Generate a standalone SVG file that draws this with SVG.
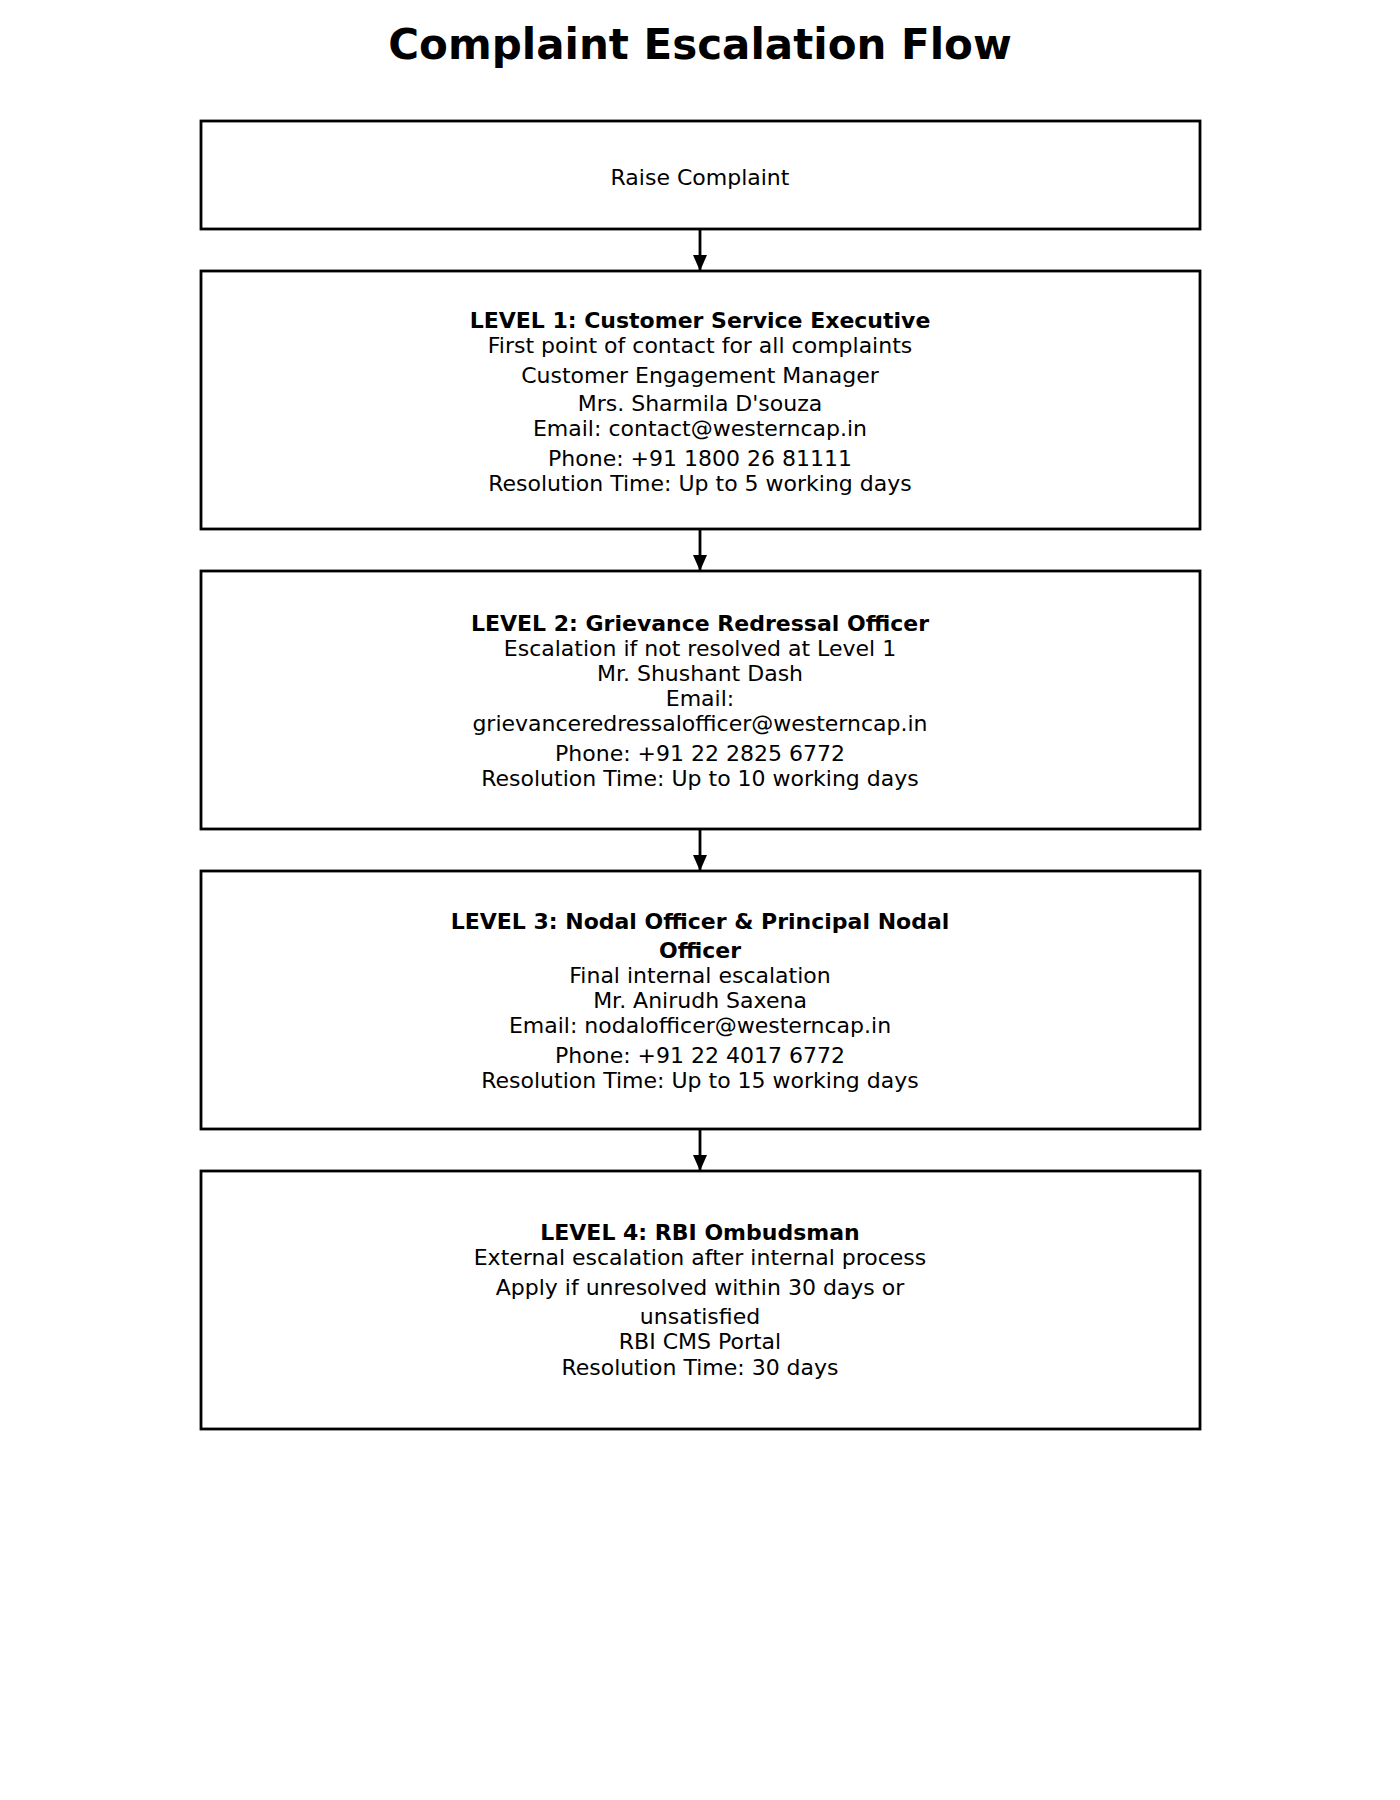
<svg xmlns="http://www.w3.org/2000/svg" width="1400" height="1800" viewBox="0 0 1400 1800">
<style>
.box{fill:#fff;stroke:#000;stroke-width:2.8}
text{font-family:"DejaVu Sans",sans-serif;font-size:22px;text-anchor:middle;fill:#000}
.b{font-weight:bold}
.t{font-size:42px;font-weight:bold}
.c{stroke:#000;stroke-width:2.8;fill:none}
</style>
<defs><marker id="a" markerWidth="16" markerHeight="14" refX="16" refY="7" orient="auto" markerUnits="userSpaceOnUse" viewBox="0 0 16 14"><path d="M0,0L16,7L0,14z" fill="#000"/></marker></defs>
<rect width="1400" height="1800" fill="#fff"/>
<text class="t" x="700" y="59">Complaint Escalation Flow</text>
<g id="connectors">
<line class="c" x1="700" y1="230" x2="700" y2="271" marker-end="url(#a)"/>
<line class="c" x1="700" y1="530" x2="700" y2="571" marker-end="url(#a)"/>
<line class="c" x1="700" y1="830" x2="700" y2="871" marker-end="url(#a)"/>
<line class="c" x1="700" y1="1130" x2="700" y2="1171" marker-end="url(#a)"/>
</g>
<g id="raise"><rect class="box" x="201" y="121" width="999" height="108"/><text x="700" y="185">Raise Complaint</text></g>
<g id="level1"><rect class="box" x="201" y="271" width="999" height="258"/>
<text class="b" x="700" y="328">LEVEL 1: Customer Service Executive</text>
<text x="700" y="353">First point of contact for all complaints</text>
<text x="700" y="383">Customer Engagement Manager</text>
<text x="700" y="411">Mrs. Sharmila D'souza</text>
<text x="700" y="436">Email: contact@westerncap.in</text>
<text x="700" y="466">Phone: +91 1800 26 81111</text>
<text x="700" y="491">Resolution Time: Up to 5 working days</text></g>
<g id="level2"><rect class="box" x="201" y="571" width="999" height="258"/>
<text class="b" x="700" y="631">LEVEL 2: Grievance Redressal Officer</text>
<text x="700" y="656">Escalation if not resolved at Level 1</text>
<text x="700" y="681">Mr. Shushant Dash</text>
<text x="700" y="706">Email:</text>
<text x="700" y="731">grievanceredressalofficer@westerncap.in</text>
<text x="700" y="761">Phone: +91 22 2825 6772</text>
<text x="700" y="786">Resolution Time: Up to 10 working days</text></g>
<g id="level3"><rect class="box" x="201" y="871" width="999" height="258"/>
<text class="b" x="700" y="929">LEVEL 3: Nodal Officer &amp; Principal Nodal</text>
<text class="b" x="700" y="958">Officer</text>
<text x="700" y="983">Final internal escalation</text>
<text x="700" y="1008">Mr. Anirudh Saxena</text>
<text x="700" y="1033">Email: nodalofficer@westerncap.in</text>
<text x="700" y="1063">Phone: +91 22 4017 6772</text>
<text x="700" y="1088">Resolution Time: Up to 15 working days</text></g>
<g id="level4"><rect class="box" x="201" y="1171" width="999" height="258"/>
<text class="b" x="700" y="1240">LEVEL 4: RBI Ombudsman</text>
<text x="700" y="1265">External escalation after internal process</text>
<text x="700" y="1295">Apply if unresolved within 30 days or</text>
<text x="700" y="1324">unsatisfied</text>
<text x="700" y="1349">RBI CMS Portal</text>
<text x="700" y="1375">Resolution Time: 30 days</text></g>
</svg>
